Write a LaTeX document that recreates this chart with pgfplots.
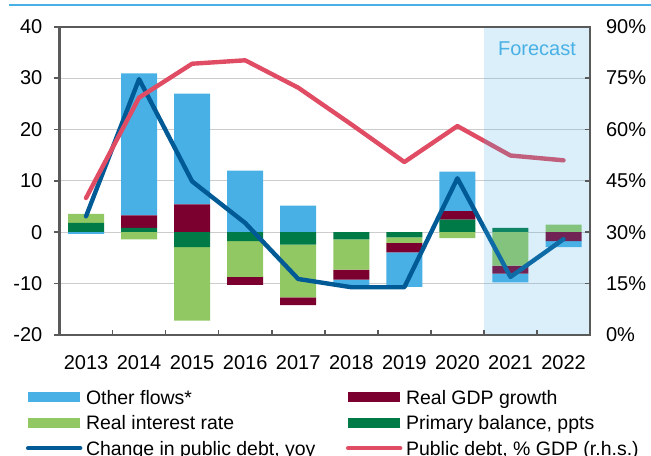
\documentclass[border=0pt]{standalone}
\usepackage{fontspec}
\setmainfont{Liberation Sans}
\usepackage{pgfplots}
\usepackage{pgfplotstable}
\pgfplotsset{compat=1.18}
\definecolor{ofblue}{RGB}{72,176,228}
\definecolor{rirgreen}{RGB}{146,200,100}
\definecolor{gdpmaroon}{RGB}{123,0,48}
\definecolor{pbgreen}{RGB}{0,122,70}
\definecolor{lineblue}{RGB}{0,90,150}
\definecolor{linered}{RGB}{224,76,100}
\definecolor{axgray}{RGB}{90,90,90}

\pgfplotstableread{
x pb rir gdp of
0 1.8 1.75 0 0
1 0.85 0 2.45 27.6
2 0 0 5.4 21.6
3 0 0 0 12.0
4 0 0 0 5.2
5 0 0 0 0
6 0 0 0 0
7 2.45 0 1.65 7.7
8 0.85 0 0 0
9 0 1.5 0 0
}\postab

\pgfplotstableread{
x pb rir gdp of
0 0 0 0 -0.3
1 0 -1.4 0 0
2 -2.9 -14.3 0 0
3 -1.75 -6.95 -1.55 0
4 -2.4 -10.3 -1.5 0
5 -1.4 -5.9 -1.9 -1.2
6 -1.0 -1.07 -1.83 -6.75
7 0 -1.15 0 0
8 0 -6.5 -1.55 -1.7
9 0 0 -1.75 -1.15
}\negtab

\pgfplotsset{
  base/.style={at={(44.625pt,90.75pt)}, anchor=south west, scale only axis,
    width=397.9pt, height=231.2pt, xmin=-0.5, xmax=9.5,
    /pgf/number format/assume math mode=true},
  barleg/.style={legend image code/.code={\fill[##1] (0pt,1.39pt) rectangle (39pt,9.11pt);}},
  lineleg/.style={legend image code/.code={\draw[##1, line cap=round] (0pt,5.25pt) -- (39pt,5.25pt);}},
  legstyle/.style={legend style={at={(#1,-0.1762)}, anchor=north west, draw=none, fill=none,
    inner sep=0pt, row sep=5.1pt, column sep=2.75pt, font=\fontsize{14.6}{17}\selectfont,
    nodes={inner sep=0pt, text height=11pt, text depth=3pt}, cells={anchor=base west}}},
}

\begin{document}
\begin{tikzpicture}
\useasboundingbox (0pt,0pt) rectangle (488.25pt,342pt);
\clip (0pt,0pt) rectangle (488.25pt,342pt);
\draw[ofblue, line width=1.5pt] (6.75pt,338.5pt) -- (488.25pt,338.5pt);

% Axis 1: grid, left ticks, x labels, positive bars
\begin{axis}[base, ymin=-20, ymax=40, ybar stacked, bar width=27pt,
  ymajorgrids, grid style={draw=black!20, line width=0.75pt},
  ytick={-20,-10,...,40}, ytick pos=left, yticklabel pos=left,
  yticklabel style={xshift=-5.6pt},
  tick align=outside, major tick length=3.75pt,
  ytick style={draw=axgray, line width=1.2pt},
  xtick={0,...,9}, xticklabels={2013,2014,2015,2016,2017,2018,2019,2020,2021,2022},
  xtick pos=bottom, xticklabel pos=bottom,
  xtick style={draw=none}, xticklabel style={yshift=-8pt},
  axis line style={draw=axgray, line width=1.5pt},
  ticklabel style={font=\fontsize{15}{18}\selectfont}]
\addplot[fill=pbgreen, draw=none] table[x=x,y=pb]{\postab};
\addplot[fill=rirgreen, draw=none] table[x=x,y=rir]{\postab};
\addplot[fill=gdpmaroon, draw=none] table[x=x,y=gdp]{\postab};
\addplot[fill=ofblue, draw=none] table[x=x,y=of]{\postab};
\end{axis}

% Axis 2: negative bars
\begin{axis}[base, ymin=-20, ymax=40, hide axis, ybar stacked, bar width=27pt]
\addplot[fill=pbgreen, draw=none] table[x=x,y=pb]{\negtab};
\addplot[fill=rirgreen, draw=none] table[x=x,y=rir]{\negtab};
\addplot[fill=gdpmaroon, draw=none] table[x=x,y=gdp]{\negtab};
\addplot[fill=ofblue, draw=none] table[x=x,y=of]{\negtab};
\end{axis}

% Axis 3: change in public debt (left scale)
\begin{axis}[base, ymin=-20, ymax=40, hide axis, legstyle=-0.0637]
\addlegendimage{barleg, fill=ofblue, draw=none}
\addlegendentry{Other flows*}
\addlegendimage{barleg, fill=rirgreen, draw=none}
\addlegendentry{Real interest rate}
\addplot[lineleg, draw=lineblue, line width=3.3pt, line join=round, line cap=round]
  coordinates {(0,3.1) (1,29.8) (2,9.9) (3,1.8) (4,-9.1) (5,-10.7) (6,-10.7) (7,10.5) (8,-8.7) (9,-1.35)};
\addlegendentry{Change in public debt, yoy}
\end{axis}

% Axis 4: public debt % GDP (right scale), forecast shading, frame
\begin{axis}[base, ymin=0, ymax=90, axis on top,
  ytick={0,15,...,90}, ytick pos=right, yticklabel pos=right,
  yticklabel={\pgfmathprintnumber{\tick}\%},
  yticklabel style={xshift=8.5pt},
  xtick={-0.5,0.5,...,9.5}, xticklabels={}, xtick pos=bottom,
  tick align=inside, major tick length=3.5pt,
  tick style={draw=axgray, line width=1.2pt},
  axis line style={draw=axgray, line width=1.5pt},
  ticklabel style={font=\fontsize{15}{18}\selectfont},
  legstyle=0.5395]
\addlegendimage{barleg, fill=gdpmaroon, draw=none}
\addlegendentry{Real GDP growth}
\addlegendimage{barleg, fill=pbgreen, draw=none}
\addlegendentry{Primary balance, ppts}
\addplot[lineleg, draw=linered, line width=3.3pt, line join=round, line cap=round]
  coordinates {(0,40.0) (1,69.3) (2,79.2) (3,80.2) (4,72.2) (5,61.5) (6,50.5) (7,61.0) (8,52.4) (9,51.0)};
\addlegendentry{Public debt, \% GDP (r.h.s.)}
\addplot[draw=none, fill=ofblue, fill opacity=0.2, forget plot]
  coordinates {(7.5,0) (7.5,90) (9.5,90) (9.5,0)} -- cycle;
\node[anchor=base, text=ofblue, font=\fontsize{15}{18}\selectfont] at (axis cs:8.5,81.74) {Forecast};
\end{axis}
\end{tikzpicture}
\end{document}
